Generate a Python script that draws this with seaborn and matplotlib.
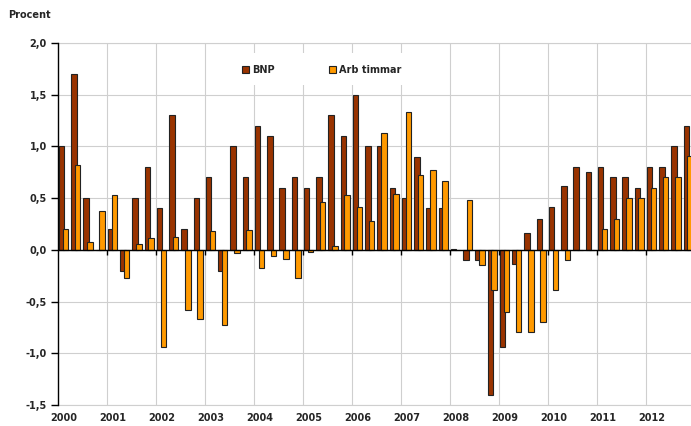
"""
Kvartalsvis förändring i BNP och arbetade timmar, 2000-2012.
"""
import numpy as np
import pandas as pd
import matplotlib
matplotlib.use("Agg")
from matplotlib import pyplot
from matplotlib.patches import Rectangle
import seaborn

years = list(range(2000, 2013))

# procentuell förändring per kvartal, 2000K1 - 2012K4
bnp = [
    1.0, 1.7, 0.5, 0.0,
    0.2, -0.2, 0.5, 0.8,
    0.4, 1.3, 0.2, 0.5,
    0.7, -0.2, 1.0, 0.7,
    1.2, 1.1, 0.6, 0.7,
    0.6, 0.7, 1.3, 1.1,
    1.5, 1.0, 1.0, 0.6,
    0.5, 0.9, 0.4, 0.4,
    0.01, -0.1, -0.1, -1.4,
    -0.94, -0.14, 0.16, 0.3,
    0.41, 0.62, 0.8, 0.75,
    0.8, 0.7, 0.7, 0.6,
    0.8, 0.8, 1.0, 1.2,
]
arb_timmar = [
    0.2, 0.82, 0.08, 0.38,
    0.53, -0.27, 0.06, 0.11,
    -0.94, 0.12, -0.58, -0.67,
    0.18, -0.73, -0.03, 0.19,
    -0.18, -0.06, -0.09, -0.27,
    -0.02, 0.46, 0.04, 0.53,
    0.41, 0.28, 1.13, 0.54,
    1.33, 0.72, 0.77, 0.67,
    0.0, 0.48, -0.15, -0.39,
    -0.6, -0.79, -0.79, -0.7,
    -0.39, -0.1, 0.0, 0.0,
    0.2, 0.3, 0.5, 0.5,
    0.6, 0.7, 0.7, 0.91,
]
ytick_values = [-1.5, -1.0, -0.5, 0.0, 0.5, 1.0, 1.5, 2.0]
ytick_labels = ["-1,5", "-1,0", "-0,5", "0,0", "0,5", "1,0", "1,5", "2,0"]

BNP_COLOR = "#993300"
ARB_COLOR = "#FF9900"
GRID_COLOR = "#cfcfcf"


def main():
    seaborn.set_style("white")
    pyplot.rcParams["font.family"] = ["DejaVu Sans"]
    pyplot.rcParams["font.size"] = 7
    pyplot.rcParams["font.weight"] = "bold"

    df = pd.DataFrame({
        "slot": np.arange(len(bnp)),
        "BNP": bnp,
        "Arb timmar": arb_timmar,
    })

    fig = pyplot.figure(figsize=(6.91, 4.26), dpi=100)
    ax = fig.add_axes([58 / 691, 21 / 426, 637 / 691, 362 / 426])

    seaborn.barplot(x=df["slot"] + 0.3, y=df["BNP"], native_scale=True, width=0.46,
                    color=BNP_COLOR, saturation=1, edgecolor="#222222", linewidth=0.8,
                    errorbar=None, ax=ax, zorder=3)
    seaborn.barplot(x=df["slot"] + 0.6, y=df["Arb timmar"], native_scale=True, width=0.46,
                    color=ARB_COLOR, saturation=1, edgecolor="#222222", linewidth=0.8,
                    errorbar=None, ax=ax, zorder=4)

    n = len(bnp)
    ax.set_xlim(0, n)
    ax.set_ylim(-1.5, 2.0)

    # year boundaries -> vertical gridlines
    boundaries = np.arange(4, n, 4)
    for b in boundaries:
        ax.axvline(b, color=GRID_COLOR, lw=0.8, zorder=1)
    for y in ytick_values:
        ax.axhline(y, color=GRID_COLOR, lw=0.8, zorder=1)
    ax.axhline(0, color="black", lw=1, zorder=5)
    ax.vlines(boundaries, -0.045, 0, color="black", lw=1, zorder=5)

    ax.set_xticks(np.arange(0, n, 4) + 0.5)
    ax.set_xticklabels([str(y) for y in years], fontweight="bold")
    ax.tick_params(axis="x", length=0, pad=6)
    ax.set_yticks(ytick_values)
    ax.set_yticklabels(ytick_labels, fontweight="bold")
    ax.tick_params(axis="y", length=5, width=1, pad=3, color="black", left=True)
    ax.set_xlabel("")
    ax.set_ylabel("")

    for side in ["top", "bottom", "right"]:
        ax.spines[side].set_color(GRID_COLOR)
        ax.spines[side].set_linewidth(0.8)
    ax.spines["left"].set_color("black")
    ax.spines["left"].set_linewidth(1)
    ax.spines["left"].set_zorder(6)

    # white box behind legend
    ax.add_patch(Rectangle((0.239, 0.884), 0.361, 0.088, transform=ax.transAxes,
                           facecolor="white", edgecolor="none", zorder=2))
    handles = [
        Rectangle((0, 0), 1, 1, facecolor=BNP_COLOR, edgecolor="#222222", lw=0.8),
        Rectangle((0, 0), 1, 1, facecolor=ARB_COLOR, edgecolor="#222222", lw=0.8),
    ]
    leg = ax.legend(handles, ["BNP", "Arb timmar"], ncol=2, frameon=False,
                    loc="center", bbox_to_anchor=(0.414, 0.925),
                    handlelength=0.7, handleheight=0.7, handletextpad=0.3,
                    columnspacing=5.6, prop={"weight": "bold", "size": 7})
    leg.set_zorder(7)

    fig.text(8 / 691, 1 - 15 / 426, "Procent", fontweight="bold", fontsize=7,
             va="center", ha="left")

    fig.savefig("out.png", dpi=100)


if __name__ == "__main__":
    main()
